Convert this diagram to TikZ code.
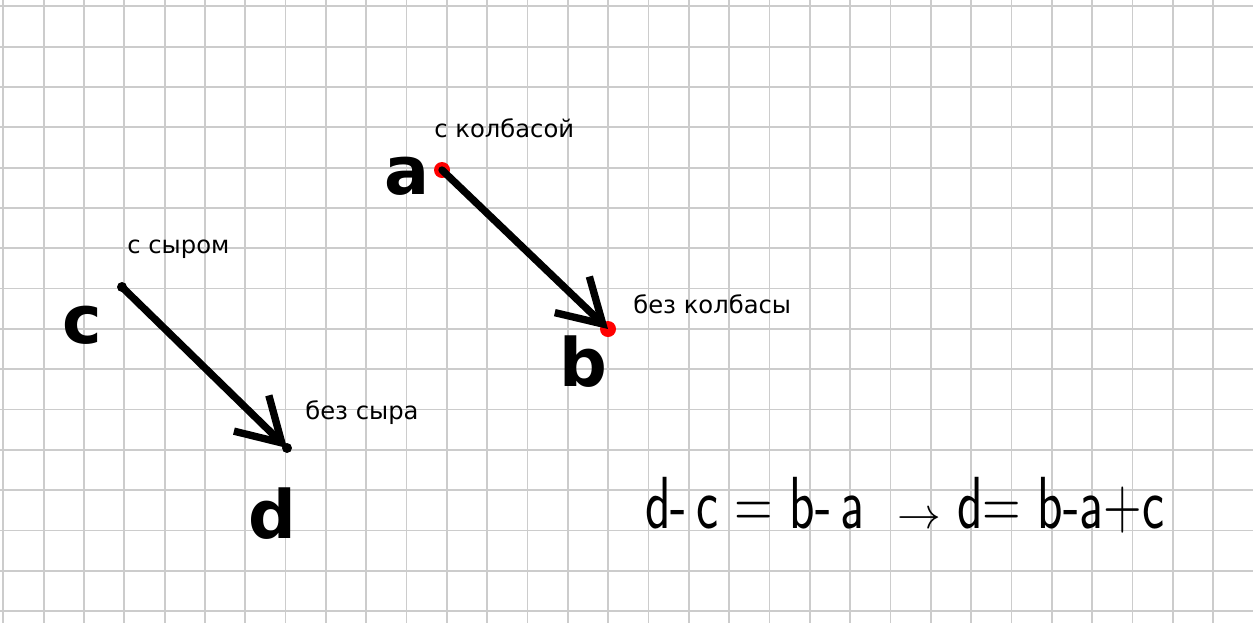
\documentclass[tikz,border=0pt]{standalone}
\usepackage{fontspec}
\setmainfont{DejaVu Sans}
\usepackage{graphicx}
\usetikzlibrary{arrows.meta}

\begin{document}
\begin{tikzpicture}[
  x=0.02cm, y=-0.02cm,
  >={Straight Barb[length=0.85cm, width=1cm]},
  gridline/.style={draw=gray!40, line width=1pt},
  vec/.style={->, line width=4.2pt, line cap=round, line join=round},
  reddot/.style={circle, fill=red, minimum size=0.32cm, inner sep=0pt},
  blackdot/.style={circle, fill=black, minimum size=0.2cm, inner sep=0pt},
  letter/.style={inner sep=0pt, font=\fontsize{38}{40}\selectfont\bfseries},
  caption/.style={anchor=base west, inner sep=0pt, font=\fontsize{13.8}{16}\selectfont},
  formula/.style={anchor=base west, inner sep=0pt, font=\fontsize{30}{32}\selectfont\sffamily}
]

% squared paper
\useasboundingbox (0,0) rectangle (1253,623);
\fill[white] (0,0) rectangle (1253,623);
\foreach \k in {0,...,30}
  \draw[gridline] ({3.3+40.33*\k},0) -- ++(0,623);
\foreach \k in {0,...,15}
  \draw[gridline] (0,{6.3+40.33*\k}) -- ++(1253,0);

% points
\node[reddot]   (a) at (442,170) {};
\node[reddot]   (b) at (608,329) {};
\node[blackdot] (c) at (122,287) {};
\node[blackdot] (d) at (287,448) {};

% vectors
\draw[vec] (a.center) -- (b.center);
\draw[vec] (c.center) -- (d.center);

% point names
\node[letter] (la) at (407,176) {a};
\node[letter] (lb) at (583,362) {b};
\node[letter] (lc) at (82,325)  {c};
\node[letter] (ld) at (272,514) {d};

% captions
\node[caption] (ta) at (434,137) {с колбасой};
\node[caption] (tb) at (633,313) {без колбасы};
\node[caption] (tc) at (127,253) {с сыром};
\node[caption] (td) at (305,419) {без сыра};

% formula
\node[formula] (eqleft)  at (645,528) {\scalebox{1}[1.4]{d-\,c = b-\,a}};
\node[formula] (eqarrow) at (897,528) {$\rightarrow$};
\node[formula] (eqright) at (957,528) {\scalebox{1}[1.4]{d= b-a+c}};

\end{tikzpicture}
\end{document}
